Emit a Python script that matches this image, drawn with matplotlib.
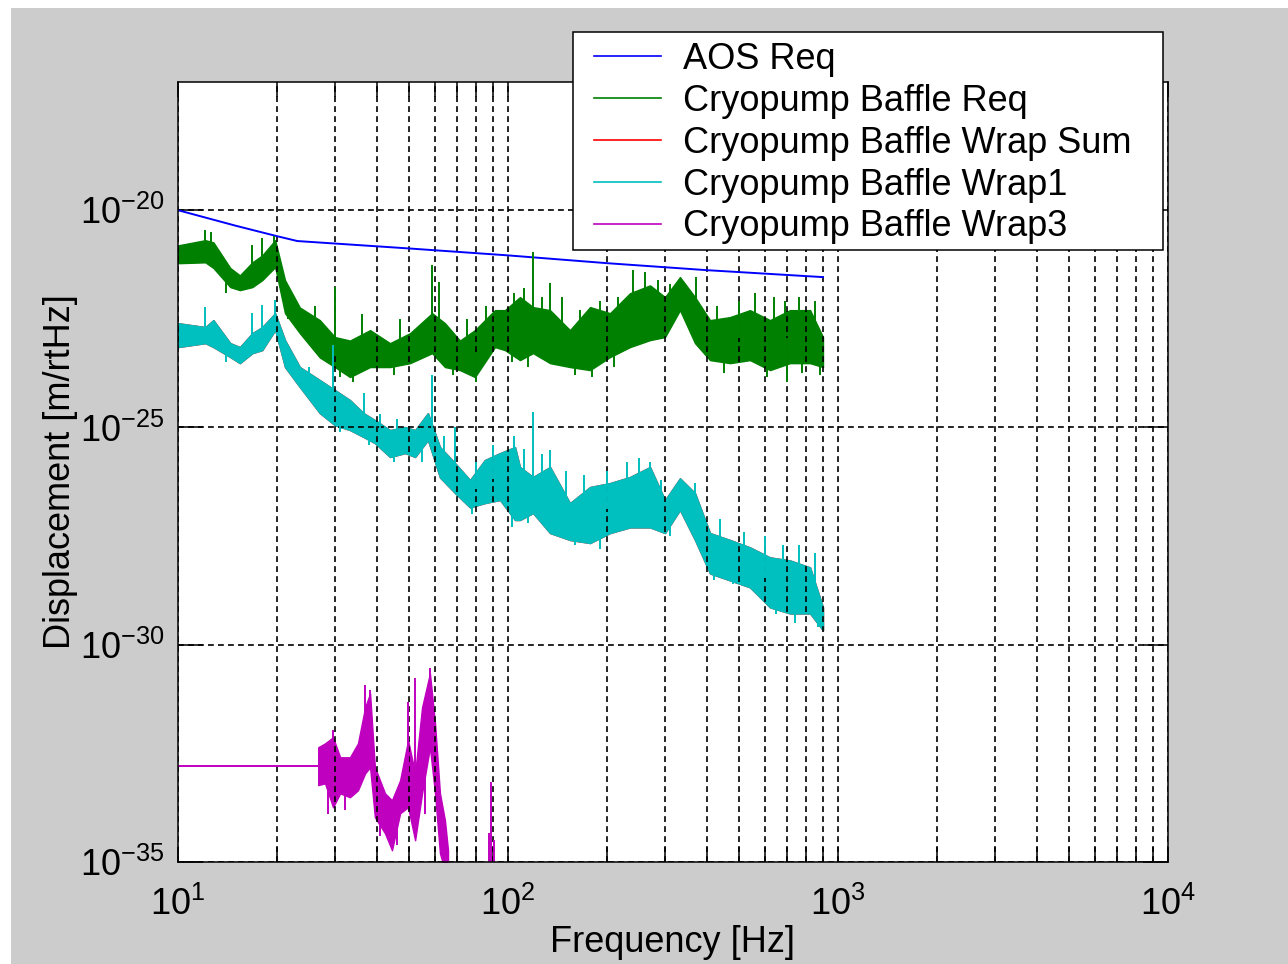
import matplotlib
matplotlib.use("Agg")
import matplotlib.pyplot as plt
import numpy as np
from matplotlib.lines import Line2D
from matplotlib.patches import Rectangle
from matplotlib.ticker import FuncFormatter, LogLocator, NullLocator, FixedLocator

plt.rcParams['font.family'] = ['Liberation Sans', 'DejaVu Sans']
plt.rcParams['mathtext.fontset'] = 'custom'
plt.rcParams['mathtext.rm'] = 'Liberation Sans'
plt.rcParams['mathtext.it'] = 'Liberation Sans:italic'
plt.rcParams['mathtext.bf'] = 'Liberation Sans:bold'

# values are log10 of displacement [m/rtHz]
aos_f = [10, 15, 20, 23, 50, 100, 200, 400, 900]
aos_log = [-20.0, -20.36, -20.60, -20.71, -20.88, -21.04, -21.22, -21.38, -21.54]

# noisy spectra: upper / lower edge of the dense band, plus single spikes and dips
band_f = [10.0, 12.1, 12.8, 14.4, 15.4, 16.8, 18.0, 19.7, 21.1, 23.4, 26.9, 29.9,
          33.2, 38.2, 43.9, 50.5, 58.9, 64.4, 71.5, 79.4, 91.3, 97.9, 108.7, 119.1,
          134.1, 154.1, 177.3, 203.8, 234.3, 269.4, 299.1, 332.0, 368.7, 409.4,
          470.8, 541.2, 622.3, 715.4, 823.0, 900.6]
baffle_hi = [-20.81, -20.69, -20.74, -21.33, -21.50, -21.20, -21.04, -20.69, -21.61, -22.24,
             -22.53, -22.92, -23.00, -22.76, -23.06, -22.83, -22.37, -22.60, -23.00, -22.76,
             -22.30, -22.30, -22.00, -22.23, -22.30, -22.76, -22.23, -22.37, -21.91, -21.73,
             -22.00, -21.54, -22.00, -22.53, -22.46, -22.30, -22.53, -22.30, -22.30, -22.92]
baffle_lo = [-21.22, -21.20, -21.33, -21.77, -21.84, -21.77, -21.61, -21.31, -22.37, -22.83,
             -23.39, -23.61, -23.84, -23.61, -23.61, -23.52, -23.29, -23.61, -23.68, -23.84,
             -23.15, -23.22, -23.45, -23.29, -23.52, -23.61, -23.68, -23.38, -23.15, -22.99,
             -22.92, -22.30, -23.06, -23.45, -23.52, -23.45, -23.68, -23.52, -23.52, -23.61]
baffle_spike_f = [12.1, 12.6, 16.8, 18.0, 19.5, 26, 29.9, 36, 47, 58.9, 62, 75, 86, 104,
                  112, 119.1, 127, 134.1, 146, 165, 190, 215, 240, 260, 285, 310, 372, 430,
                  500, 560, 640, 690, 760, 850]
baffle_spike_top = [-20.46, -20.51, -20.81, -20.64, -20.60, -22.2, -21.77, -22.4, -22.5,
                    -21.27, -21.66, -22.5, -22.2, -21.9, -21.8, -20.97, -22.0, -21.68, -22.0,
                    -22.3, -22.1, -22.0, -21.38, -21.43, -21.6, -21.7, -21.54, -22.2, -22.1,
                    -21.9, -22.0, -22.1, -22.0, -22.1]
baffle_dip_f = [14.0, 21.5, 31, 34, 45, 68, 80, 103, 115, 160, 180, 210, 450, 610, 700, 780, 880]
baffle_dip_bot = [-21.9, -22.5, -23.85, -23.95, -23.8, -23.8, -23.95, -23.5, -23.6, -23.8,
                  -23.85, -23.6, -23.75, -23.85, -23.95, -23.75, -23.8]

wrap1_f = [10.0, 12.1, 12.8, 14.4, 15.4, 16.8, 18.0, 19.7, 21.1, 23.4, 26.9, 29.9, 33.2,
           36.5, 39.5, 43.9, 48.8, 52.3, 57.2, 62.2, 69.1, 76.7, 85.1, 94.6, 105.0, 108.7,
           119.1, 134.1, 154.1, 177.3, 203.8, 234.3, 269.4, 299.1, 332.0, 368.7, 409.4,
           470.8, 541.2, 622.3, 715.4, 823.0, 900.6]
wrap1_hi = [-22.60, -22.69, -22.53, -23.06, -23.15, -22.83, -22.69, -22.37, -22.99, -23.61,
            -23.91, -24.14, -24.37, -24.67, -24.83, -25.06, -24.99, -25.06, -24.67, -25.45,
            -25.82, -26.21, -25.75, -25.59, -25.45, -25.91, -26.14, -25.91, -26.74, -26.37,
            -26.28, -26.14, -25.91, -26.67, -26.17, -26.51, -27.43, -27.59, -27.76, -27.99,
            -28.06, -28.22, -29.14]
wrap1_lo = [-23.15, -23.06, -23.15, -23.38, -23.52, -23.29, -23.22, -22.76, -23.61, -24.07,
            -24.67, -24.95, -25.06, -25.22, -25.36, -25.68, -25.59, -25.68, -25.29, -26.15,
            -26.51, -26.84, -26.74, -26.67, -27.13, -27.13, -26.97, -27.43, -27.59, -27.66,
            -27.43, -27.30, -27.30, -27.43, -26.90, -27.59, -28.36, -28.52, -28.68, -29.14,
            -29.28, -29.28, -29.67]
wrap1_spike_f = [12.1, 16.8, 18.0, 19.7, 25, 29.5, 36.5, 41, 46, 58.9, 64, 69.1, 80, 90, 104,
                 112, 119.1, 127, 134.1, 150, 170, 200, 230, 250, 269.4, 290, 368.7, 440, 520,
                 600, 680, 760, 850]
wrap1_spike_top = [-22.23, -22.37, -22.19, -22.07, -23.6, -23.11, -24.21, -24.7, -24.8, -23.80,
                   -25.2, -25.00, -25.8, -25.4, -25.2, -25.5, -24.65, -25.6, -25.52, -26.0,
                   -26.1, -26.0, -25.8, -25.7, -25.80, -26.2, -26.28, -27.1, -27.4, -27.5,
                   -27.7, -27.7, -27.9]
wrap1_dip_f = [14, 22, 31, 38, 45, 55, 72, 78, 103, 115, 160, 190, 310, 420, 480, 580, 650,
               740, 870]
wrap1_dip_bot = [-23.5, -23.8, -25.1, -25.4, -25.8, -25.8, -26.6, -27.0, -27.3, -27.2, -27.7,
                 -27.8, -27.5, -28.5, -28.6, -28.9, -29.3, -29.5, -29.6]

# wrap sum = wrap1 + wrap3, identical to wrap1 on this scale (hidden underneath)
wrapsum_f = wrap1_f
wrapsum_hi = wrap1_hi
wrapsum_lo = wrap1_lo

wrap3_flat_f = [10.0, 26.6]
wrap3_flat_log = [-32.80, -32.80]
wrap3_f = [26.6, 27.9, 29.5, 31.0, 33.2, 35.1, 36.9, 38.2, 39.5, 42.4, 44.5, 47.1, 49.8,
           52.3, 54.9, 58.0, 60.1, 62.2, 64.4, 65.8]
wrap3_hi = [-32.36, -32.27, -32.13, -32.59, -32.59, -32.27, -31.44, -31.12, -32.82, -33.42,
            -33.58, -33.12, -32.20, -32.96, -31.44, -30.66, -31.81, -33.42, -34.04, -34.73]
wrap3_lo = [-33.23, -33.19, -33.74, -33.42, -33.51, -33.35, -32.96, -32.82, -33.97, -34.34,
            -34.73, -33.88, -33.74, -34.50, -33.42, -32.36, -33.42, -34.80, -35.19, -35.65]
wrap3_spike_f = [29.5, 36.9, 38.2, 49.8, 52.3, 58.0]
wrap3_spike_top = [-31.97, -30.93, -31.05, -31.32, -30.77, -30.54]
wrap3_dip_f = [28.5, 32, 41, 46, 56]
wrap3_dip_bot = [-33.9, -33.8, -34.4, -34.6, -33.9]
# isolated lines near 90 Hz rising from below the axis
wrap3_line_f = [87.6, 88.9, 90.7]
wrap3_line_top = [-34.34, -33.16, -34.50]

labels = ['AOS Req', 'Cryopump Baffle Req', 'Cryopump Baffle Wrap Sum',
          'Cryopump Baffle Wrap1', 'Cryopump Baffle Wrap3']
colors = ['#0000ff', '#008000', '#ff0000', '#00bfbf', '#bf00bf']


def draw_band(ax, f, hi, lo, color, spike_f=(), spike_top=(), dip_f=(), dip_bot=()):
    f = np.array(f)
    hi = np.array(hi)
    lo = np.array(lo)
    ax.fill_between(f, 10.0 ** hi, 10.0 ** lo, facecolor=color, edgecolor=color, lw=1.0)
    mid = (hi + lo) / 2
    for sf, sv in ((spike_f, spike_top), (dip_f, dip_bot)):
        if len(sf):
            base = np.interp(np.log10(sf), np.log10(f), mid)
            ax.vlines(sf, 10.0 ** base, 10.0 ** np.array(sv), color=color, lw=1.4)


fig = plt.figure(figsize=(12.88, 9.64), dpi=100, facecolor='white')
fig.patches.append(Rectangle((11 / 1288, 0), 1 - 11 / 1288, 1 - 8 / 964,
                             transform=fig.transFigure, facecolor='#cccccc',
                             edgecolor='none', zorder=-10))
ax = fig.add_axes([178 / 1288, 102 / 964, 990 / 1288, 780 / 964])
ax.set_xscale('log')
ax.set_yscale('log')

ax.plot(aos_f, 10.0 ** np.array(aos_log), color=colors[0], lw=1.4)
draw_band(ax, band_f, baffle_hi, baffle_lo, colors[1], baffle_spike_f, baffle_spike_top,
          baffle_dip_f, baffle_dip_bot)
draw_band(ax, wrapsum_f, wrapsum_hi, wrapsum_lo, colors[2])
draw_band(ax, wrap1_f, wrap1_hi, wrap1_lo, colors[3], wrap1_spike_f, wrap1_spike_top,
          wrap1_dip_f, wrap1_dip_bot)
ax.plot(wrap3_flat_f, 10.0 ** np.array(wrap3_flat_log), color=colors[4], lw=1.4)
draw_band(ax, wrap3_f, wrap3_hi, wrap3_lo, colors[4], wrap3_spike_f, wrap3_spike_top,
          wrap3_dip_f, wrap3_dip_bot)
ax.vlines(wrap3_line_f, 1e-36, 10.0 ** np.array(wrap3_line_top), color=colors[4], lw=1.4)

ax.set_xlim(10, 1e4)
ax.set_ylim(1e-35, 10 ** -17.05)

ax.xaxis.set_major_locator(FixedLocator([10, 100, 1000, 10000]))
ax.xaxis.set_minor_locator(LogLocator(base=10, subs=np.arange(2, 10)))
ax.xaxis.set_minor_formatter(plt.NullFormatter())
ax.yaxis.set_major_locator(FixedLocator([1e-35, 1e-30, 1e-25, 1e-20]))
ax.yaxis.set_minor_locator(NullLocator())
fmt = FuncFormatter(lambda v, p: r'$\mathregular{10^{%d}}$' % round(np.log10(v)))
ax.xaxis.set_major_formatter(fmt)
ax.yaxis.set_major_formatter(fmt)

ax.tick_params(which='both', direction='in', top=True, right=True, labelsize=26, width=1.1)
ax.tick_params(axis='x', which='both', length=10.8, pad=18)
ax.tick_params(axis='y', which='major', length=18, pad=10)

ax.grid(True, which='major', axis='both', color='black', lw=1.2, linestyle=(0, (3.5, 2.5)))
ax.grid(True, which='minor', axis='x', color='black', lw=1.2, linestyle=(0, (3.5, 2.5)))
for s in ax.spines.values():
    s.set_linewidth(1.1)

ax.set_xlabel('Frequency [Hz]', fontsize=26, labelpad=1)
ax.set_ylabel('Displacement [m/rtHz]', fontsize=26, labelpad=1)

# legend frame sits partly above the axes
fig.patches.append(Rectangle((573 / 1288, 1 - 250 / 964), 590 / 1288, 218 / 964,
                             transform=fig.transFigure, facecolor='white',
                             edgecolor='black', lw=1.1, zorder=5))
handles = [Line2D([], [], color=c, lw=1.2) for c in colors]
leg = fig.legend(handles, labels, loc='upper left', bbox_to_anchor=(594 / 1288, 1 - 42 / 964),
                 bbox_transform=fig.transFigure, fontsize=26, frameon=False,
                 borderpad=0, labelspacing=0.19, handlelength=1.85, handletextpad=0.62,
                 borderaxespad=0)
leg.set_zorder(10)

fig.savefig('out.png', dpi=100, facecolor=fig.get_facecolor())
